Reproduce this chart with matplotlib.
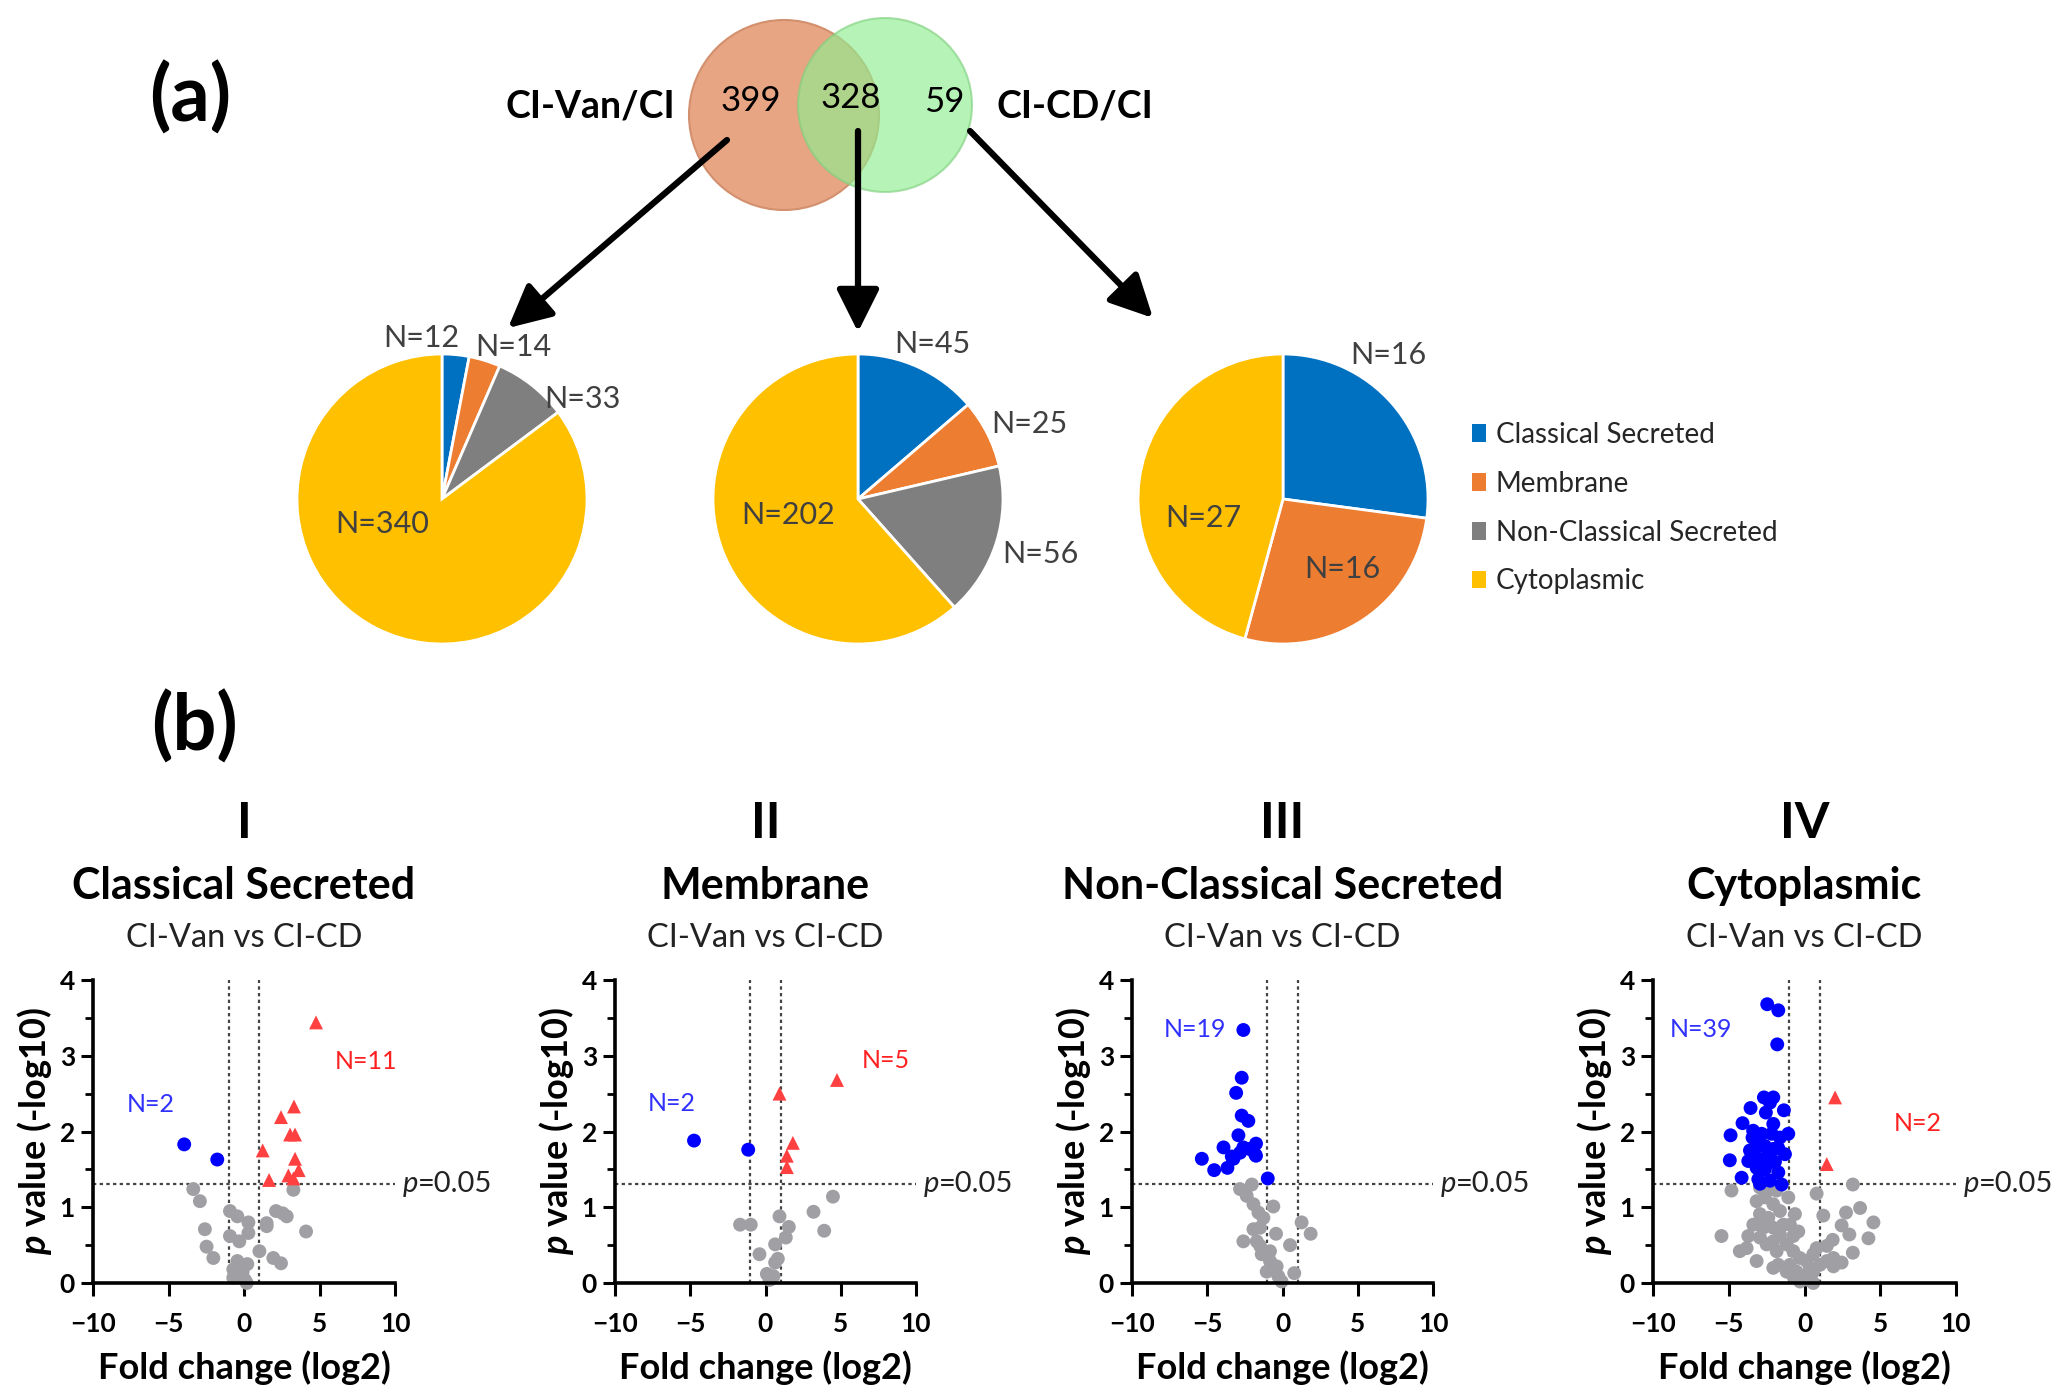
import numpy as np
import matplotlib
matplotlib.use('Agg')
import matplotlib.pyplot as plt
from matplotlib.patches import Circle, Patch
from matplotlib.ticker import MultipleLocator

plt.rcParams['font.family'] = ['Lato', 'DejaVu Sans']
plt.rcParams['mathtext.fontset'] = 'custom'
plt.rcParams['mathtext.it'] = 'Lato:italic:bold'
plt.rcParams['mathtext.rm'] = 'Lato:bold'

W, H = 2055, 1399

# ---- data ----
venn_names = ['CI-Van/CI', 'CI-CD/CI']
venn_counts = [399, 328, 59]          # only Van, both, only CD

categories = ['Classical Secreted', 'Membrane', 'Non-Classical Secreted', 'Cytoplasmic']
cat_colors = ['#0070C0', '#ED7D31', '#7F7F7F', '#FFC000']
pie_van = [12, 14, 33, 340]
pie_both = [45, 25, 56, 202]
pie_cd = [16, 16, 0, 27]

panel_numerals = ['I', 'II', 'III', 'IV']
panel_subtitle = 'CI-Van vs CI-CD'

# volcano points (log2 fold change, -log10 p)
v1_down = [(-3.96, 1.83), (-1.77, 1.63)]
v1_up = [(4.77, 3.44), (2.45, 2.19), (3.31, 2.33), (3.05, 1.96), (3.38, 1.96), (1.24, 1.75),
         (3.38, 1.64), (3.62, 1.49), (2.94, 1.42), (3.27, 1.38), (1.66, 1.36)]
v1_ns = [(-3.36, 1.24), (3.27, 1.23), (-2.92, 1.08), (-0.93, 0.95), (-0.44, 0.88), (2.12, 0.95),
         (2.56, 0.92), (2.83, 0.88), (1.50, 0.79), (0.29, 0.80), (-2.59, 0.71), (4.11, 0.68),
         (1.50, 0.75), (-0.93, 0.62), (0.29, 0.66), (-0.31, 0.55), (-2.48, 0.48), (-2.03, 0.33),
         (1.02, 0.42), (1.94, 0.33), (2.45, 0.26), (-0.44, 0.29), (0.22, 0.25), (-0.71, 0.18),
         (-0.09, 0.15), (-0.71, 0.07), (0.07, 0.04), (-0.27, 0.11), (0.18, 0.0)]

v2_down = [(-4.75, 1.88), (-1.15, 1.76)]
v2_up = [(4.75, 2.68), (0.93, 2.50), (1.82, 1.85), (1.42, 1.68), (1.42, 1.53)]
v2_ns = [(4.48, 1.14), (3.19, 0.94), (3.90, 0.69), (0.93, 0.88), (1.55, 0.74), (-1.69, 0.77),
         (-0.98, 0.77), (1.35, 0.60), (0.64, 0.51), (-0.40, 0.38), (0.82, 0.32), (0.64, 0.27),
         (0.09, 0.12), (0.53, 0.09), (0.27, 0.04)]

v3_down = [(-2.60, 3.34), (-2.71, 2.71), (-3.08, 2.51), (-2.71, 2.21), (-2.27, 2.14), (-2.93, 1.95),
           (-1.76, 1.84), (-3.92, 1.79), (-2.60, 1.79), (-2.20, 1.77), (-3.37, 1.67), (-1.82, 1.70),
           (-5.36, 1.64), (-2.82, 1.72), (-3.66, 1.52), (-4.54, 1.49), (-0.98, 1.38), (-3.26, 1.64),
           (-1.76, 1.68)]
v3_up = []
v3_ns = [(-2.04, 1.30), (-2.82, 1.24), (-2.38, 1.15), (-1.93, 1.04), (-0.61, 1.01), (-1.60, 0.93),
         (1.27, 0.80), (1.87, 0.65), (-1.93, 0.71), (-1.49, 0.73), (-2.60, 0.55), (-0.43, 0.65),
         (0.50, 0.50), (-1.49, 0.49), (-1.71, 0.55), (-1.38, 0.38), (-0.83, 0.29), (-0.39, 0.22),
         (-1.05, 0.15), (0.78, 0.13), (-0.28, 0.09), (-0.06, 0.02), (-0.61, 0.18), (-0.83, 0.42),
         (-1.27, 0.86)]

v4_down = [(-2.46, 3.68), (-1.73, 3.60), (-1.80, 3.15), (-2.68, 2.45), (-2.06, 2.45), (-2.28, 2.38),
           (-3.56, 2.31), (-2.55, 2.25), (-1.36, 2.28), (-4.09, 2.11), (-4.88, 1.95), (-1.07, 1.97),
           (-3.43, 1.92), (-2.83, 1.97), (-2.17, 1.97), (-2.99, 1.88), (-1.62, 1.92), (-3.21, 1.79),
           (-2.62, 1.81), (-2.06, 1.77), (-1.73, 1.78), (-1.29, 1.70), (-4.93, 1.62), (-3.71, 1.61),
           (-2.99, 1.64), (-2.50, 1.66), (-1.95, 1.60), (-3.16, 1.52), (-2.62, 1.50), (-1.73, 1.46),
           (-4.15, 1.39), (-3.05, 1.37), (-2.28, 1.35), (-1.51, 1.30), (-2.94, 1.31), (-3.39, 2.01),
           (-2.06, 2.10), (-2.39, 1.58), (-3.60, 1.75)]
v4_up = [(2.02, 2.45), (1.47, 1.57)]
v4_ns = [(-4.82, 1.22), (3.19, 1.30), (0.80, 1.18), (3.67, 0.99), (2.74, 0.93), (1.24, 0.89),
         (4.55, 0.80), (2.45, 0.76), (-5.48, 0.62), (4.22, 0.59), (1.86, 0.57), (1.47, 0.49),
         (-4.27, 0.42), (3.19, 0.40), (-3.16, 0.29), (2.45, 0.27), (1.91, 0.22), (-2.06, 0.20),
         (-3.71, 0.62), (-2.94, 0.60), (-2.62, 1.13), (-2.06, 1.04), (-2.94, 0.91), (-2.39, 0.86),
         (-1.62, 0.95), (-1.07, 1.13), (-2.72, 0.73), (-2.06, 0.73), (-1.62, 0.64), (-0.74, 0.62),
         (-0.41, 0.68), (-2.50, 0.51), (-1.84, 0.42), (-1.18, 0.51), (-0.74, 0.42), (-0.30, 0.33),
         (0.14, 0.29), (0.58, 0.38), (0.80, 0.46), (-0.96, 0.24), (-0.52, 0.15), (-0.08, 0.09),
         (0.25, 0.04), (-0.30, 0.02), (-0.74, 0.09), (0.58, 0.15), (0.58, 0.0), (-3.16, 1.08),
         (-3.38, 0.77), (-1.40, 0.77), (-1.84, 1.22), (-2.28, 1.24), (-2.94, 1.26), (-2.94, 0.77),
         (-3.82, 0.46), (-2.06, 0.55), (-0.96, 0.77), (-0.63, 0.91), (1.91, 0.33), (1.47, 0.29),
         (1.02, 0.24), (2.96, 0.64), (0.36, 0.20), (-1.18, 0.15), (-1.73, 0.24)]

volcanos = [(v1_down, v1_up, v1_ns), (v2_down, v2_up, v2_ns),
            (v3_down, v3_up, v3_ns), (v4_down, v4_up, v4_ns)]

# ---- layout (pixel coords, origin top-left) ----
pie_centers = [(442, 499), (858, 499), (1283, 499)]
pie_r = 145
pie_label_pos = [
    [(-0.14, 1.11), (0.49, 1.05), (0.97, 0.69), (-0.41, -0.17)],
    [(0.51, 1.07), (1.18, 0.52), (1.26, -0.38), (-0.48, -0.11)],
    [(0.73, 0.99), (0.41, -0.48), None, (-0.55, -0.13)],
]
vol_x = [(93, 395), (615, 916), (1132, 1433), (1653, 1956)]
vol_top, vol_bot = 980, 1283
down_lab = [(-6.2, 2.35), (-6.2, 2.37), (-5.8, 3.34), (-6.8, 3.34)]
up_lab = [(8.1, 2.92), (8.0, 2.94), None, (7.5, 2.10)]

fig = plt.figure(figsize=(W / 100, H / 100), dpi=100)
bg = fig.add_axes([0, 0, 1, 1])
bg.set_xlim(0, W)
bg.set_ylim(H, 0)
bg.axis('off')

# panel letters
bg.text(190, 98, '(a)', fontsize=56, fontweight='bold', ha='center', va='center')
bg.text(194, 727, '(b)', fontsize=56, fontweight='bold', ha='center', va='center')

# Venn diagram
bg.add_patch(Circle((784, 115), 95, facecolor='#E8A583', edgecolor='#D3906E', lw=1.5, zorder=1))
bg.add_patch(Circle((885, 105), 87, facecolor='#90EE90', edgecolor='#80D080', lw=1.5,
                    alpha=0.65, zorder=2))
bg.text(675, 107, venn_names[0], fontsize=27, fontweight='bold', ha='right', va='center')
bg.text(996, 107, venn_names[1], fontsize=27, fontweight='bold', ha='left', va='center')
for (x, y), n in zip([(751, 101), (851, 98), (944, 102)], venn_counts):
    bg.text(x, y, str(n), fontsize=25, ha='center', va='center', zorder=3)

# arrows
for start, tip in [((727, 140), (508, 328)), ((858, 131), (858, 332)), ((970, 131), (1153, 318))]:
    bg.annotate('', xy=tip, xytext=start,
                arrowprops=dict(arrowstyle='-|>,head_length=0.5,head_width=0.25', lw=4.5,
                                color='black', mutation_scale=52, shrinkA=0, shrinkB=0), zorder=4)

# pies
for (cx, cy), vals, labpos in zip(pie_centers, [pie_van, pie_both, pie_cd], pie_label_pos):
    ax = fig.add_axes([(cx - pie_r) / W, 1 - (cy + pie_r) / H, 2 * pie_r / W, 2 * pie_r / H])
    keep = [i for i, v in enumerate(vals) if v > 0]
    ax.pie([vals[i] for i in keep], colors=[cat_colors[i] for i in keep], startangle=90,
           counterclock=False, wedgeprops=dict(edgecolor='white', linewidth=2))
    ax.set_xlim(-1, 1)
    ax.set_ylim(-1, 1)
    for v, pos in zip(vals, labpos):
        if pos is not None and v > 0:
            ax.text(pos[0], pos[1], f'N={v}', fontsize=22, color='#404040',
                    ha='center', va='center')

# legend
handles = [Patch(facecolor=c, edgecolor='none') for c in cat_colors]
fig.legend(handles, categories, loc='upper left', bbox_to_anchor=(1447 / W, 1 - 397 / H),
           frameon=False, fontsize=20, handlelength=0.5, handleheight=0.6,
           handletextpad=0.35, labelspacing=0.82, labelcolor='#262626')

# volcano plots
for k, ((x0, x1), cat, num, (dn, up, ns)) in enumerate(zip(vol_x, categories, panel_numerals, volcanos)):
    ax = fig.add_axes([x0 / W, 1 - vol_bot / H, (x1 - x0) / W, (vol_bot - vol_top) / H])
    ax.set_xlim(-10, 10)
    ax.set_ylim(0, 4)
    for s in ['top', 'right']:
        ax.spines[s].set_visible(False)
    for s in ['left', 'bottom']:
        ax.spines[s].set_linewidth(2.6)
    ax.set_xticks([-10, -5, 0, 5, 10])
    ax.set_yticks([0, 1, 2, 3, 4])
    ax.yaxis.set_minor_locator(MultipleLocator(0.5))
    ax.tick_params(which='major', length=9, width=2.2, labelsize=19, pad=4)
    ax.tick_params(axis='x', pad=12)
    ax.tick_params(which='minor', length=6, width=2.0)
    for lab in ax.get_xticklabels() + ax.get_yticklabels():
        lab.set_fontweight('bold')

    ax.axvline(-1, color='#444444', lw=1.6, ls=(0, (1.5, 1.5)), zorder=1)
    ax.axvline(1, color='#444444', lw=1.6, ls=(0, (1.5, 1.5)), zorder=1)
    ax.axhline(-np.log10(0.05), color='#444444', lw=1.6, ls=(0, (1.5, 1.5)), zorder=1)

    ns_a = np.array(ns)
    ax.scatter(ns_a[:, 0], ns_a[:, 1], s=100, color='#A0A0A4', edgecolor='none', zorder=2, clip_on=False)
    dn_a = np.array(dn)
    ax.scatter(dn_a[:, 0], dn_a[:, 1], s=100, color='#0000FF', edgecolor='none', zorder=3, clip_on=False)
    if len(up):
        up_a = np.array(up)
        ax.scatter(up_a[:, 0], up_a[:, 1], s=100, marker='^', color='#FF4040', edgecolor='none',
                   zorder=3, clip_on=False)

    ax.text(down_lab[k][0], down_lab[k][1], f'N={len(dn)}', color='#3030FF', fontsize=18,
            ha='center', va='center')
    if up_lab[k] is not None:
        ax.text(up_lab[k][0], up_lab[k][1], f'N={len(up)}', color='#FF2020', fontsize=18,
                ha='center', va='center')

    t = ax.text(10.5, -np.log10(0.05), 'p', style='italic', fontsize=21, color='#222222',
                ha='left', va='center', clip_on=False)
    ax.annotate('=0.05', xy=(1, 0), xycoords=t, fontsize=21, color='#222222', va='bottom')

    ax.set_xlabel('Fold change (log2)', fontsize=26, fontweight='bold', labelpad=10)
    ax.set_ylabel('$p$ value (-log10)', fontsize=26, fontweight='bold', labelpad=4)

    xc = (x0 + x1) / 2
    bg.text(xc, 823, num, fontsize=36, fontweight='bold', ha='center', va='center')
    bg.text(xc, 886, cat, fontsize=31, fontweight='bold', ha='center', va='center')
    bg.text(xc, 938, panel_subtitle, fontsize=23.5, ha='center', va='center', color='#222222')

fig.savefig('out.png', dpi=100)
